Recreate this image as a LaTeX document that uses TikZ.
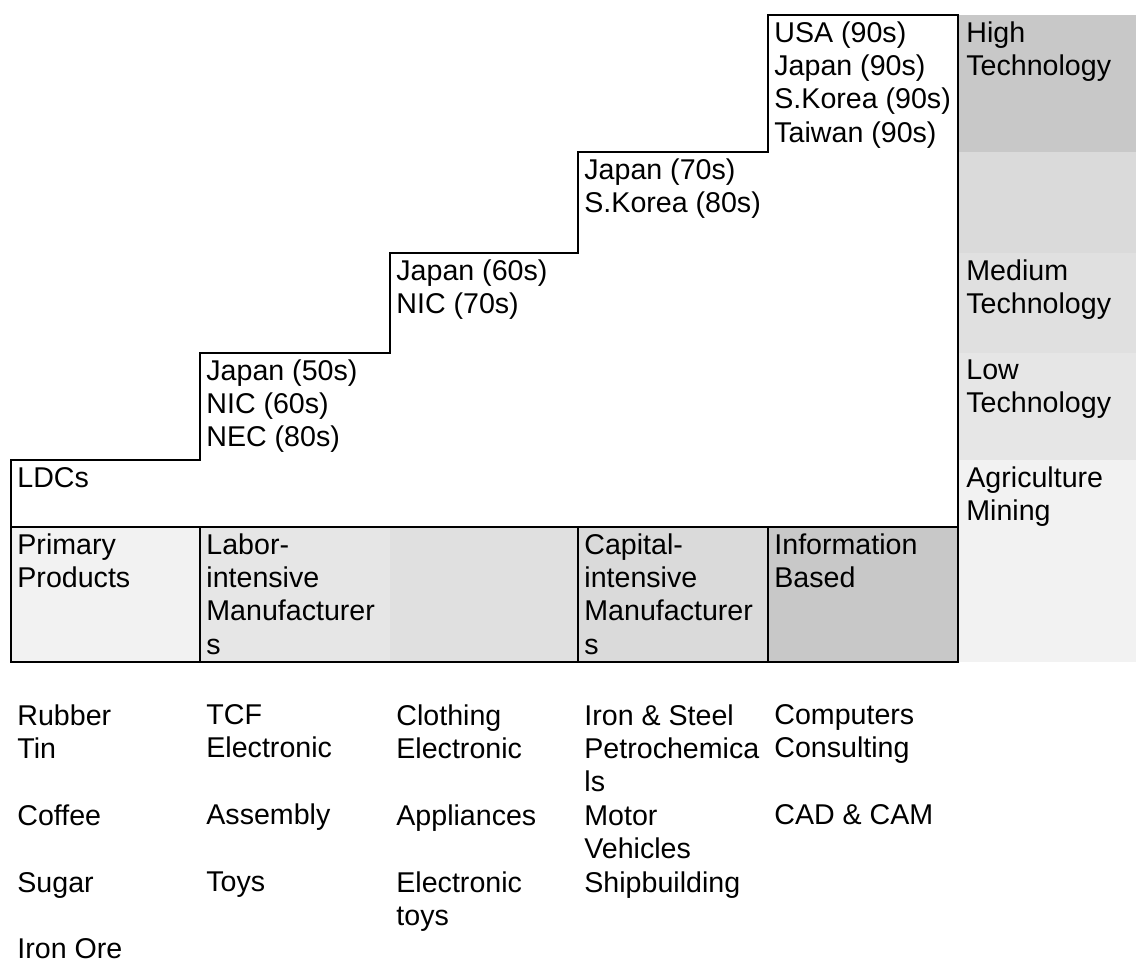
\documentclass[tikz,border=0pt]{standalone}
\usepackage{fontspec}
\setmainfont{Liberation Sans}
\usetikzlibrary{positioning}
\definecolor{shadeA}{HTML}{F2F2F2}
\definecolor{shadeB}{HTML}{E6E6E6}
\definecolor{shadeC}{HTML}{E0E0E0}
\definecolor{shadeD}{HTML}{DADADA}
\definecolor{shadeE}{HTML}{C8C8C8}
\newcommand{\cellstrut}{\rule{0pt}{10.6pt}}
\tikzset{
  cell text/.style={
    anchor=north west,
    inner sep=0pt,
    align=left,
    font=\fontsize{14.3}{16.7}\selectfont,
    execute at begin node=\cellstrut
  },
  stair line/.style={
    draw=black,
    line width=1pt,
    line join=miter
  }
}
\begin{document}
\begin{tikzpicture}[x=0.5pt, y=-0.5pt]
  \useasboundingbox (0,0) rectangle (1136,964);

  % technology bands
  \fill[shadeE] (958,15) rectangle (1136,152);
  \fill[shadeD] (958,152) rectangle (1136,253);
  \fill[shadeC] (958,253) rectangle (1136,353);
  \fill[shadeB] (958,353) rectangle (1136,460);
  \fill[shadeA] (958,460) rectangle (1136,662);
  \node[cell text] (high) at (966,21) {High\\Technology};
  \node[cell text] (medium) at (966,259) {Medium\\Technology};
  \node[cell text] (low) at (966,359) {Low\\Technology};
  \node[cell text] (agri) at (966,466) {Agriculture\\Mining};

  % product row
  \fill[shadeA] (11,527) rectangle (200,662);
  \fill[shadeB] (200,527) rectangle (390,662);
  \fill[shadeC] (390,527) rectangle (578,662);
  \fill[shadeD] (578,527) rectangle (768,662);
  \fill[shadeE] (768,527) rectangle (958,662);
  \draw[stair line] (11,527) rectangle (958,662);
  \draw[stair line] (200,527) -- (200,662) (578,527) -- (578,662) (768,527) -- (768,662);
  \node[cell text] (primary) at (17,533) {Primary\\Products};
  \node[cell text] (labor) at (206,533) {Labor-\\intensive\\Manufacturer\\s};
  \node[cell text] (capital) at (584,533) {Capital-\\intensive\\Manufacturer\\s};
  \node[cell text] (info) at (774,533) {Information\\Based};

  % staircase
  \draw[stair line] (11,527) -- (11,460) -- (200,460) -- (200,353) -- (390,353)
    -- (390,253) -- (578,253) -- (578,152) -- (768,152) -- (768,15) -- (958,15) -- (958,527);
  \node[cell text] (ldc) at (17,466) {LDCs};
  \node[cell text] (step50) at (206,359) {Japan (50s)\\NIC (60s)\\NEC (80s)};
  \node[cell text] (step60) at (396,259) {Japan (60s)\\NIC (70s)};
  \node[cell text] (step70) at (584,158) {Japan (70s)\\S.Korea (80s)};
  \node[cell text] (step90) at (774,21) {USA (90s)\\Japan (90s)\\S.Korea (90s)\\Taiwan (90s)};

  % example goods
  \node[cell text] (goods1) at (17,704) {Rubber\\Tin\\~\\Coffee\\~\\Sugar\\~\\Iron Ore};
  \node[cell text] (goods2) at (206,704) {TCF\\Electronic\\~\\Assembly\\~\\Toys};
  \node[cell text] (goods3) at (396,704) {Clothing\\Electronic\\~\\Appliances\\~\\Electronic\\toys};
  \node[cell text] (goods4) at (584,704) {Iron \& Steel\\Petrochemica\\ls\\Motor\\Vehicles\\Shipbuilding};
  \node[cell text] (goods5) at (774,704) {Computers\\Consulting\\~\\CAD \& CAM};

\end{tikzpicture}
\end{document}
